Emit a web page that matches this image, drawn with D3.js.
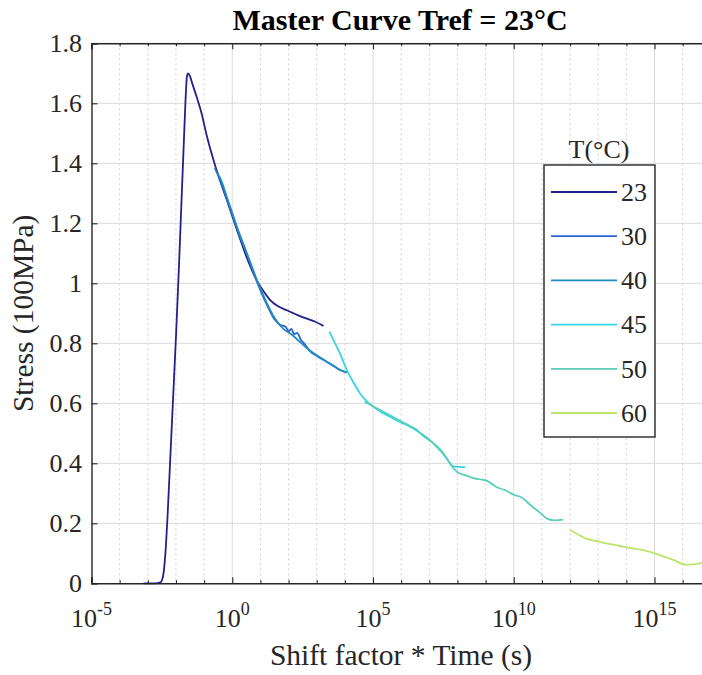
<!DOCTYPE html>
<html>
<head>
<meta charset="utf-8">
<script src="https://cdn.jsdelivr.net/npm/d3@7"></script>
<style>
  html, body { margin: 0; padding: 0; background: #fff; }
  svg { display: block; }
</style>
</head>
<body>
<svg id="chart" width="702" height="675"></svg>
<script>
// Master curve: stress vs shifted time, one series per test temperature.
// Time values are stored as base-10 exponents of (shift factor * time) in seconds.
const temperatures = ["23", "30", "40", "45", "50", "60"];
const seriesColors = ["#22208a", "#2c64c8", "#1f8dc0", "#36d4e4", "#58cfb6", "#bfe46e"];

const exp23 = [-3.15, -2.75, -2.55, -2.48, -2.42, -2.36, -2.3, -2.2, -2.1, -2.0, -1.9, -1.8, -1.72, -1.66, -1.61, -1.57, -1.5, -1.4, -1.26, -1.1, -0.9, -0.6, -0.2, 0.16, 0.5, 0.87, 1.1, 1.34, 1.6, 1.94, 2.3, 2.65, 2.95, 3.24];
const stress23 = [0, 0, 0.003, 0.015, 0.05, 0.12, 0.22, 0.42, 0.62, 0.82, 1.04, 1.28, 1.47, 1.61, 1.69, 1.70, 1.69, 1.66, 1.62, 1.57, 1.49, 1.39, 1.28, 1.18, 1.09, 1.01, 0.975, 0.945, 0.925, 0.91, 0.895, 0.882, 0.872, 0.858];

const exp30 = [-0.62, -0.5, -0.3, -0.1, 0.15, 0.4, 0.7, 0.9, 1.1, 1.3, 1.5, 1.7, 1.9, 2.0, 2.1, 2.2, 2.3, 2.45, 2.55, 2.75, 3.0, 3.3, 3.6, 3.85, 4.07];
const stress30 = [1.385, 1.36, 1.31, 1.255, 1.19, 1.13, 1.05, 1.0, 0.955, 0.915, 0.88, 0.862, 0.855, 0.84, 0.848, 0.83, 0.835, 0.81, 0.80, 0.775, 0.758, 0.742, 0.724, 0.71, 0.702];

const exp40 = [-0.55, -0.4, -0.2, 0.0, 0.3, 0.6, 0.9, 1.2, 1.5, 1.8, 2.1, 2.4, 2.7, 3.0, 3.3, 3.6, 3.9, 4.1];
const stress40 = [1.37, 1.345, 1.29, 1.235, 1.15, 1.08, 1.005, 0.94, 0.885, 0.85, 0.83, 0.805, 0.78, 0.76, 0.742, 0.725, 0.708, 0.703];

const exp45 = [3.45, 3.55, 3.71, 3.9, 4.07, 4.3, 4.54, 4.8, 5.01, 5.3, 5.61, 5.9, 6.2, 6.5, 6.79, 7.05, 7.26, 7.5, 7.7, 7.85, 8.05, 8.27];
const stress45 = [0.839, 0.82, 0.789, 0.75, 0.711, 0.67, 0.633, 0.605, 0.589, 0.57, 0.555, 0.54, 0.528, 0.512, 0.494, 0.475, 0.455, 0.43, 0.405, 0.39, 0.388, 0.387];

const exp50 = [4.7, 5.0, 5.3, 5.6, 5.9, 6.2, 6.5, 6.8, 7.1, 7.4, 7.6, 7.8, 8.0, 8.3, 8.6, 8.9, 9.1, 9.4, 9.7, 10.0, 10.3, 10.6, 10.9, 11.2, 11.45, 11.76];
const stress50 = [0.605, 0.59, 0.575, 0.56, 0.545, 0.53, 0.515, 0.49, 0.47, 0.445, 0.42, 0.39, 0.37, 0.36, 0.35, 0.345, 0.339, 0.32, 0.31, 0.295, 0.285, 0.26, 0.238, 0.215, 0.21, 0.212];

const exp60 = [12.0, 12.3, 12.6, 13.0, 13.3, 13.7, 14.1, 14.5, 14.9, 15.3, 15.7, 16.1, 16.4, 16.7, 16.9];
const stress60 = [0.178, 0.162, 0.148, 0.14, 0.133, 0.126, 0.118, 0.112, 0.103, 0.09, 0.077, 0.062, 0.063, 0.068, 0.07];

const xMajorExps = [-5, 0, 5, 10, 15];
const yTickValues = [0, 0.2, 0.4, 0.6, 0.8, 1, 1.2, 1.4, 1.6, 1.8];
const yTickLabels = ["0", "0.2", "0.4", "0.6", "0.8", "1", "1.2", "1.4", "1.6", "1.8"];

const seriesExps = [exp23, exp30, exp40, exp45, exp50, exp60];
const seriesStress = [stress23, stress30, stress40, stress45, stress50, stress60];

const series = temperatures.map((t, i) => ({
  name: t,
  color: seriesColors[i],
  points: seriesExps[i].map((e, j) => ({ t: Math.pow(10, e), s: seriesStress[i][j] }))
}));

const FONT = "'Liberation Serif', 'Times New Roman', Tinos, 'DejaVu Serif', serif";
const INK = "#262626";

const svg = d3.select("#chart");
const plotLeft = 91.5, plotRight = 710.8, plotTop = 43.3, plotBottom = 583.3;

const x = d3.scaleLog().domain([1e-5, 1e17]).range([plotLeft, plotRight]);
const y = d3.scaleLinear().domain([0, 1.8]).range([plotBottom, plotTop]);

const decades = d3.range(-5, 18).map(e => Math.pow(10, e));
const majors = xMajorExps.map(e => Math.pow(10, e));
const minors = decades.filter(d => !xMajorExps.includes(Math.round(Math.log10(d))));

// grid
const grid = svg.append("g");
grid.selectAll("line.minor").data(minors).join("line")
  .attr("x1", d => x(d)).attr("x2", d => x(d))
  .attr("y1", plotTop).attr("y2", plotBottom)
  .attr("stroke", "#cfcfcf").attr("stroke-width", 1)
  .attr("stroke-dasharray", "2,3");
grid.selectAll("line.vmajor").data(majors.slice(1)).join("line")
  .attr("x1", d => x(d)).attr("x2", d => x(d))
  .attr("y1", plotTop).attr("y2", plotBottom)
  .attr("stroke", "#dadada").attr("stroke-width", 1);
grid.selectAll("line.h").data(yTickValues.slice(1)).join("line")
  .attr("x1", plotLeft).attr("x2", plotRight)
  .attr("y1", d => y(d)).attr("y2", d => y(d))
  .attr("stroke", "#dadada").attr("stroke-width", 1);

// curves
svg.append("clipPath").attr("id", "plotClip").append("rect")
  .attr("x", plotLeft).attr("y", plotTop).attr("width", plotRight - plotLeft).attr("height", plotBottom - plotTop + 2);

const line = d3.line().x(d => x(d.t)).y(d => y(d.s)).curve(d3.curveMonotoneX);
svg.append("g").attr("clip-path", "url(#plotClip)")
  .selectAll("path").data(series).join("path")
  .attr("d", d => line(d.points))
  .attr("fill", "none")
  .attr("stroke", d => d.color)
  .attr("stroke-width", 1.8)
  .attr("stroke-linejoin", "round");

// axes (MATLAB-like inward ticks)
svg.append("g").attr("transform", `translate(0,${plotBottom})`)
  .call(d3.axisBottom(x).tickValues(majors).tickSize(-6).tickFormat(() => ""));
svg.append("g").attr("transform", `translate(0,${plotBottom})`)
  .call(d3.axisBottom(x).tickValues(minors).tickSize(-3).tickFormat(() => "")).select(".domain").remove();
svg.append("g").attr("transform", `translate(0,${plotTop})`)
  .call(d3.axisTop(x).tickValues(majors).tickSize(-6).tickFormat(() => ""));
svg.append("g").attr("transform", `translate(0,${plotTop})`)
  .call(d3.axisTop(x).tickValues(minors).tickSize(-3).tickFormat(() => "")).select(".domain").remove();
svg.append("g").attr("transform", `translate(${plotLeft},0)`)
  .call(d3.axisLeft(y).tickValues(yTickValues).tickSize(-6).tickFormat(() => ""));

svg.selectAll(".domain").attr("stroke", INK).attr("stroke-width", 1.4);
svg.selectAll(".tick line").attr("stroke", INK).attr("stroke-width", 1.1);

// x tick labels with exponents
const xl = svg.append("g");
xMajorExps.forEach(e => {
  const t = xl.append("text")
    .attr("x", x(Math.pow(10, e))).attr("y", 627)
    .attr("text-anchor", "middle")
    .style("font-family", FONT).style("fill", INK)
    .style("font-size", "26px");
  t.append("tspan").text("10");
  t.append("tspan").attr("dy", -12).style("font-size", "18px").text(String(e));
});

// y tick labels
svg.append("g").selectAll("text").data(yTickValues).join("text")
  .attr("x", 82).attr("y", d => y(d))
  .attr("dy", "0.34em")
  .attr("text-anchor", "end")
  .style("font-family", FONT).style("fill", INK)
  .style("font-size", "26px")
  .text((d, i) => yTickLabels[i]);

// title and axis labels
svg.append("text").attr("x", 400).attr("y", 30).attr("text-anchor", "middle")
  .style("font-family", FONT)
  .style("font-size", "30px").style("font-weight", "bold").style("fill", "#000")
  .text("Master Curve Tref = 23°C");
svg.append("text").attr("x", 401).attr("y", 665).attr("text-anchor", "middle")
  .style("font-family", FONT).style("fill", INK)
  .style("font-size", "29.5px")
  .text("Shift factor * Time (s)");
svg.append("text").attr("transform", `translate(33,${(plotTop + plotBottom) / 2}) rotate(-90)`)
  .attr("text-anchor", "middle")
  .style("font-family", FONT).style("fill", INK)
  .style("font-size", "29.5px")
  .text("Stress (100MPa)");

// legend
const lg = svg.append("g");
lg.append("text").attr("x", 599).attr("y", 158).attr("text-anchor", "middle")
  .style("font-family", FONT).style("fill", INK)
  .style("font-size", "26px").text("T(°C)");
lg.append("rect").attr("x", 544).attr("y", 165).attr("width", 111).attr("height", 272)
  .attr("fill", "#fff").attr("stroke", INK).attr("stroke-width", 1.4);
const rowY = i => 192 + i * 44.2;
lg.selectAll("line.item").data(series).join("line")
  .attr("x1", 551).attr("x2", 617)
  .attr("y1", (d, i) => rowY(i)).attr("y2", (d, i) => rowY(i))
  .attr("stroke", d => d.color).attr("stroke-width", 1.8);
lg.selectAll("text.item").data(series).join("text")
  .attr("x", 621).attr("y", (d, i) => rowY(i)).attr("dy", "0.34em")
  .style("font-family", FONT).style("fill", INK)
  .style("font-size", "26px")
  .text(d => d.name);
</script>
</body>
</html>
